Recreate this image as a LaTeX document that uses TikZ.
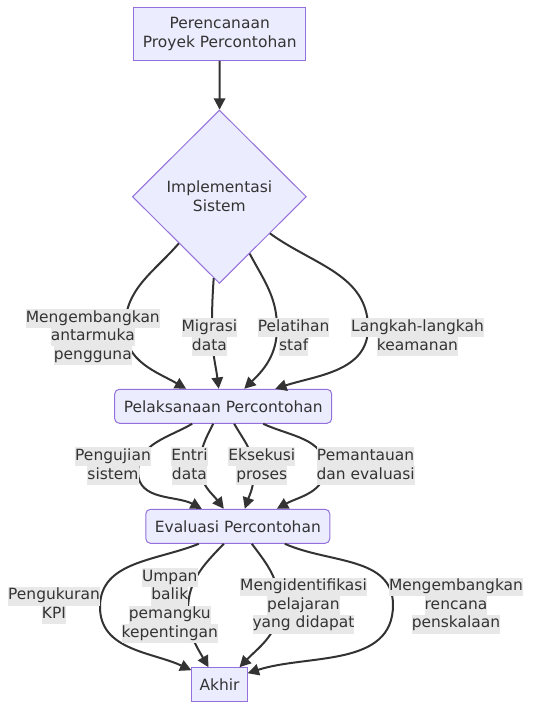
\documentclass[tikz,border=0pt]{standalone}
\usepackage{fontspec}
\setmainfont{DejaVu Sans}
\usetikzlibrary{calc,arrows.meta,shapes.geometric}

\definecolor{nodefill}{HTML}{ECECFF}
\definecolor{nodeline}{HTML}{9370DB}
\definecolor{ink}{HTML}{333333}
\definecolor{labelbg}{HTML}{E8E8E8}

\newcommand{\edgetext}[1]{{\setlength{\fboxsep}{0pt}\colorbox{labelbg}{\strut#1}}}

\tikzset{
    box/.style={
        draw=nodeline, fill=nodefill, line width=0.75pt,
        text=ink, align=center, inner sep=0pt,
        font=\fontsize{11.6}{14.25}\selectfont
    },
    roundbox/.style={box, rounded corners=3.5pt},
    decision/.style={box, diamond, aspect=1},
    flow/.style={draw=ink, line width=1.5pt, -{Triangle[length=8.5pt,width=8.5pt]}},
    edgelabel/.style={
        text=ink, align=center, inner sep=0pt,
        font=\fontsize{11.6}{14}\selectfont
    }
}

\begin{document}
\begin{tikzpicture}[x=0.75pt, y=-0.75pt]
    \useasboundingbox (0,0) rectangle (540,720);

    % nodes
    \node[box, minimum width=129pt, minimum height=39.75pt]
        (plan) at (219.7,33.8) {Perencanaan\\Proyek Percontohan};
    \node[decision, minimum width=130.5pt, minimum height=130pt]
        (impl) at (219.4,196.7) {Implementasi\\Sistem};
    \node[roundbox, minimum width=162.75pt, minimum height=25.5pt]
        (pelak) at (223.2,406.3) {Pelaksanaan Percontohan};
    \node[roundbox, minimum width=138pt, minimum height=25.5pt]
        (eval) at (237.8,526.3) {Evaluasi Percontohan};
    \node[box, minimum width=41.5pt, minimum height=25pt]
        (akhir) at (219.5,684.4) {Akhir};

    % plan -> impl
    \draw[flow]
        (plan) --
        (impl);

    % impl -> pelak
    \coordinate (w_ui) at (125,328);
    \coordinate (w_mig) at (212,330);
    \coordinate (w_staf) at (277,328);
    \coordinate (w_aman) at (368,328);

    \draw[flow]
        (impl) to[out=-131, in=90]
        (w_ui) to[out=-90, in=150]
        ($(pelak.north)+(-37,0)$);
    \draw[flow]
        (impl) to[out=-94, in=90]
        (w_mig) to[out=-90, in=97]
        ($(pelak.north)+(-4.5,0)$);
    \draw[flow]
        (impl) to[out=-62, in=90]
        (w_staf) to[out=-90, in=44]
        ($(pelak.north)+(21,0)$);
    \draw[flow]
        (impl) to[out=-36, in=90]
        (w_aman) to[out=-90, in=18]
        ($(pelak.north)+(52,0)$);

    % pelak -> eval
    \coordinate (w_uji) at (138,472);
    \coordinate (w_entri) at (200,466);
    \coordinate (w_proses) at (254,472);
    \coordinate (w_pantau) at (325,468);

    \draw[flow]
        ($(pelak.south)+(-31,0)$) to[out=-150, in=90]
        (w_uji) to[out=-90, in=152]
        ($(eval.north)+(-36,0)$);
    \draw[flow]
        ($(pelak.south)+(-10,0)$) to[out=-117, in=90]
        (w_entri) to[out=-90, in=127]
        ($(eval.north)+(-14,0)$);
    \draw[flow]
        ($(pelak.south)+(11,0)$) to[out=-60, in=90]
        (w_proses) to[out=-90, in=71]
        ($(eval.north)+(7,0)$);
    \draw[flow]
        ($(pelak.south)+(40,0)$) to[out=-25, in=90]
        (w_pantau) to[out=-90, in=29]
        ($(eval.north)+(39,0)$);

    % eval -> akhir
    \coordinate (w_kpi) at (100,607);
    \coordinate (w_umpan) at (188,610);
    \coordinate (w_ident) at (279,605);
    \coordinate (w_skala) at (393,605);

    \draw[flow]
        ($(eval.south)+(-39,0)$) to[out=-158, in=90]
        (w_kpi) to[out=-90, in=155]
        ($(akhir.north west)+(0,3)$);
    \draw[flow]
        ($(eval.south)+(-14,0)$) to[out=-134, in=90]
        (w_umpan) to[out=-90, in=120]
        ($(akhir.north)+(-11,0)$);
    \draw[flow]
        ($(eval.south)+(14,0)$) to[out=-53, in=90]
        (w_ident) to[out=-90, in=46]
        ($(akhir.north)+(20,0)$);
    \draw[flow]
        ($(eval.south)+(47,0)$) to[out=-24, in=90]
        (w_skala) to[out=-90, in=18]
        ($(akhir.north east)+(0,6)$);

    % edge labels
    \node[edgelabel] (l_ui) at (92.8,337)
        {\edgetext{Mengembangkan}\\\edgetext{antarmuka}\\\edgetext{pengguna}};
    \node[edgelabel] (l_mig) at (209.4,337)
        {\edgetext{Migrasi}\\\edgetext{data}};
    \node[edgelabel] (l_staf) at (293.7,337)
        {\edgetext{Pelatihan}\\\edgetext{staf}};
    \node[edgelabel] (l_aman) at (417.5,337)
        {\edgetext{Langkah-langkah}\\\edgetext{keamanan}};

    \node[edgelabel] (l_uji) at (113,466)
        {\edgetext{Pengujian}\\\edgetext{sistem}};
    \node[edgelabel] (l_entri) at (189.4,466)
        {\edgetext{Entri}\\\edgetext{data}};
    \node[edgelabel] (l_proses) at (261.8,466)
        {\edgetext{Eksekusi}\\\edgetext{proses}};
    \node[edgelabel] (l_pantau) at (365.6,466)
        {\edgetext{Pemantauan}\\\edgetext{dan evaluasi}};

    \node[edgelabel] (l_kpi) at (54,605.5)
        {\edgetext{Pengukuran}\\\edgetext{KPI}};
    \node[edgelabel] (l_umpan) at (169.8,605.5)
        {\edgetext{Umpan}\\\edgetext{balik}\\\edgetext{pemangku}\\\edgetext{kepentingan}};
    \node[edgelabel] (l_ident) at (303.5,605.5)
        {\edgetext{Mengidentifikasi}\\\edgetext{pelajaran}\\\edgetext{yang didapat}};
    \node[edgelabel] (l_skala) at (456,605.5)
        {\edgetext{Mengembangkan}\\\edgetext{rencana}\\\edgetext{penskalaan}};

\end{tikzpicture}
\end{document}
